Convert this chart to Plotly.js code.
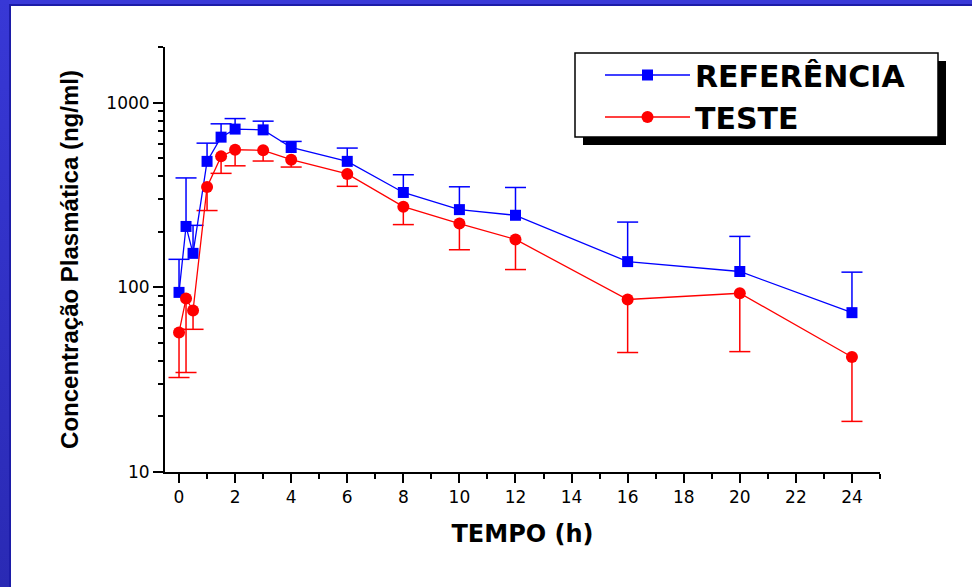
<!DOCTYPE html>
<html><head><meta charset="utf-8">
<script src="https://cdn.plot.ly/plotly-3.0.1.min.js"></script>
<style>
html,body{margin:0;padding:0;background:#fff;overflow:hidden}
#chart{position:absolute;left:0;top:0;width:972px;height:587px}
.band{position:absolute;pointer-events:none}
</style></head><body>
<div id="chart"></div>
<div class="band" style="left:0;top:0;width:972px;height:5px;background:#3a3ad8"></div>
<div class="band" style="left:0;top:0;width:9px;height:587px;background:linear-gradient(#3838d6,#2a2ab4)"></div>
<div class="band" style="left:9px;top:4px;width:963px;height:2px;background:#1c1ca8"></div>
<div class="band" style="left:9px;top:4px;width:2px;height:583px;background:#1c1ca8"></div>
<script>
// ---- data ----
var time      = [0, 0.25, 0.5, 1, 1.5, 2, 3, 4, 6, 8, 10, 12, 16, 20, 24];
var refMean   = [94, 214, 153, 482, 652, 721, 714, 573, 482, 327, 264, 246, 138, 122, 73];
var refUpper  = [142, 392, 217, 605, 770, 822, 796, 618, 569, 408, 351, 348, 226, 189, 121];
var testMean  = [57, 87, 75, 350, 513, 557, 553, 492, 412, 274, 222, 182, 86, 93, 42];
var testLower = [32.5, 34.6, 59.3, 261, 415, 456, 484, 449, 353, 219, 160, 125, 44.4, 44.9, 18.8];
var seriesNames = ['REFERÊNCIA', 'TESTE'];
var yTickVals = [10, 100, 1000];
var yTickText = ['10', '100', '1000'];

// ---- layout geometry (pixels) ----
var W = 972, H = 587, ML = 165, MR = 92, MT = 47, MB = 115;
var PW = W - ML - MR, PH = H - MT - MB;
function px(x) { return (x - ML) / PW; }
function py(y) { return (H - MB - y) / PH; }

var CAP = 0.375; // cap half-width in x units
function errPath(xs, from, to) {
  var x = [], y = [];
  for (var i = 0; i < xs.length; i++) {
    x.push(xs[i], xs[i], null, xs[i] - CAP, xs[i] + CAP, null);
    y.push(from[i], to[i], null, to[i], to[i], null);
  }
  return {x: x, y: y};
}
var BLUE = '#0000ff', RED = '#ff0000';
var eRef = errPath(time, refMean, refUpper);
var eTest = errPath(time, testMean, testLower);

var traces = [
  {x: eRef.x, y: eRef.y, mode: 'lines', line: {color: BLUE, width: 1.5}, showlegend: false, hoverinfo: 'skip'},
  {x: eTest.x, y: eTest.y, mode: 'lines', line: {color: RED, width: 1.5}, showlegend: false, hoverinfo: 'skip'},
  {x: time, y: refMean, name: seriesNames[0], mode: 'lines+markers',
   line: {color: BLUE, width: 1.3}, marker: {symbol: 'square', size: 11, color: BLUE}},
  {x: time, y: testMean, name: seriesNames[1], mode: 'lines+markers',
   line: {color: RED, width: 1.3}, marker: {symbol: 'circle', size: 12, color: RED}}
];

var layout = {
  width: W, height: H,
  margin: {l: ML, r: MR, t: MT, b: MB},
  paper_bgcolor: '#ffffff', plot_bgcolor: '#ffffff',
  font: {family: 'DejaVu Sans, Liberation Sans, sans-serif', color: '#000'},
  showlegend: true,
  xaxis: {
    range: [-0.5, 25], tickmode: 'linear', tick0: 0, dtick: 2,
    ticks: 'outside', ticklen: 9, tickwidth: 2, tickcolor: '#000',
    showline: true, linewidth: 2, linecolor: '#000',
    showgrid: false, zeroline: false,
    minor: {tick0: 0, dtick: 1, ticks: 'outside', ticklen: 5, tickwidth: 2, tickcolor: '#000', showgrid: false},
    tickfont: {size: 17, color: '#000'},
    title: {text: 'TEMPO (h)', font: {size: 24, weight: 'bold', color: '#000'}, standoff: 19}
  },
  yaxis: {
    type: 'log', range: [1, 3.3027],
    tickmode: 'array', tickvals: yTickVals, ticktext: yTickText,
    ticks: 'outside', ticklen: 10, tickwidth: 2, tickcolor: '#000',
    showline: true, linewidth: 2, linecolor: '#000',
    showgrid: false, zeroline: false,
    minor: {dtick: 'D1', ticks: 'outside', ticklen: 5, tickwidth: 2, tickcolor: '#000', showgrid: false},
    tickfont: {size: 17, color: '#000'},
    title: {text: 'Concentração Plasmática (ng/ml)',
            font: {family: 'Liberation Sans, Arial, sans-serif', size: 24, weight: 'bold', color: '#000'},
            standoff: 21}
  },
  legend: {
    x: px(600), y: py(49), xanchor: 'left', yanchor: 'top',
    bgcolor: 'rgba(0,0,0,0)', borderwidth: 0, itemwidth: 85,
    font: {family: 'DejaVu Sans, Liberation Sans, sans-serif', size: 30, weight: 'bold', color: '#000'}
  },
  shapes: [
    {type: 'rect', xref: 'paper', yref: 'paper', x0: px(583), x1: px(946), y0: py(145), y1: py(61),
     fillcolor: '#000', line: {width: 0}, layer: 'above'},
    {type: 'rect', xref: 'paper', yref: 'paper', x0: px(575), x1: px(938), y0: py(137), y1: py(53),
     fillcolor: '#fff', line: {color: '#000', width: 1.5}, layer: 'above'}
  ]
};

Plotly.newPlot('chart', traces, layout, {displayModeBar: false, staticPlot: true});
</script>
</body></html>
